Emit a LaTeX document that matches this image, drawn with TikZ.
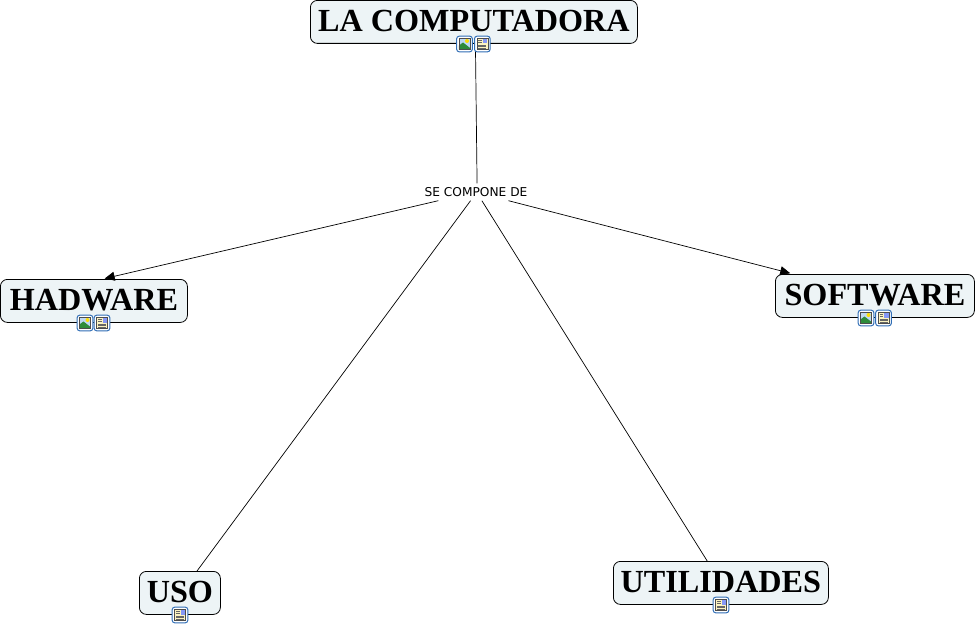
\documentclass[tikz,border=0pt]{standalone}
\usepackage{fontspec}
\setmainfont{Liberation Serif}
\newfontfamily\labelfont{DejaVu Sans}
\usetikzlibrary{arrows.meta}
\definecolor{boxfill}{HTML}{EDF4F6}
\definecolor{iconblue}{HTML}{2F6DB5}
\definecolor{docyellow}{HTML}{FBF3C0}
\definecolor{skyblue}{HTML}{BFD9F2}
\definecolor{hill}{HTML}{2E8B3A}
\tikzset{
  x=1pt,y=-1pt,
  concept/.style={draw=black,fill=boxfill,line width=0.8pt,rounded corners=7pt,inner sep=0pt,
    minimum height=43pt,text height=21.5pt,text depth=2.5pt,font=\bfseries\fontsize{32.2}{33}\selectfont,text=black,anchor=north west},
  linkword/.style={inner sep=0pt,minimum width=112pt,minimum height=17pt,font=\labelfont\fontsize{12.2}{13}\selectfont},
  link/.style={draw=black,line width=0.7pt},
  arrowlink/.style={link,-{Triangle[length=10pt,width=9pt]}},
  iconframe/.style={draw=iconblue,fill=white,line width=1pt,rounded corners=2.5pt}
}
\newcommand{\imgicon}[2]{%
 \begin{scope}[shift={(#1,#2)}]
  \draw[iconframe] (-7.8,-7.8) rectangle (7.8,7.8);
  \fill[skyblue] (-5.6,-5.6) rectangle (5.6,5.6);
  \fill[yellow!80!orange] (2.5,-3) circle (2);
  \fill[hill] (-5.6,5.6) -- (-5.6,1.5) -- (-1.5,-1.5) -- (5.6,4) -- (5.6,5.6) -- cycle;
  \draw[black!70,line width=0.4pt] (-5.6,-5.6) rectangle (5.6,5.6);
 \end{scope}}
\newcommand{\docicon}[2]{%
 \begin{scope}[shift={(#1,#2)}]
  \draw[iconframe] (-7.8,-7.8) rectangle (7.8,7.8);
  \fill[docyellow] (-5.6,-5.6) rectangle (5.6,5.6);
  \fill[skyblue!70!blue] (0.5,-5) rectangle (5,-0.5);
  \draw[black!70,line width=0.4pt] (-5.6,-5.6) rectangle (5.6,5.6);
  \draw[black!60,line width=0.4pt] (-4,-3.5) -- (-0.5,-3.5) (-4,-1.5) -- (-0.5,-1.5) (-4,0.8) -- (4,0.8) (-4,2.5) -- (4,2.5) (-4,4.2) -- (4,4.2);
 \end{scope}}
\begin{document}
\begin{tikzpicture}
\useasboundingbox (0,0) rectangle (977,626);
\node[concept,minimum width=327pt] (lc) at (310,0) {LA COMPUTADORA};
\node[concept,minimum width=187pt] (hw) at (0,279) {HADWARE};
\node[concept,minimum width=199pt] (sw) at (775,274) {SOFTWARE};
\node[concept,minimum width=81pt] (uso) at (139,571) {USO};
\node[concept,minimum width=215pt] (ut) at (613,561) {UTILIDADES};
\node[linkword] (se) at (476,192) {SE COMPONE DE};
\draw[link] (lc.-86) -- (se.83.3);
\draw[arrowlink,shorten >=2pt] (se.193.9) -- (hw.68.4);
\draw[arrowlink,shorten >=3pt] (se.-15.3) -- (sw.165.5);
\draw[link] (se.-122) -- (uso.52.5);
\draw[link] (se.-56.2) -- (ut.122.1);
\imgicon{464.5}{44}\docicon{482.3}{44}
\imgicon{85}{323}\docicon{102}{323}
\imgicon{866}{318}\docicon{883.5}{318}
\docicon{180}{615}
\docicon{721}{605}
\end{tikzpicture}
\end{document}
